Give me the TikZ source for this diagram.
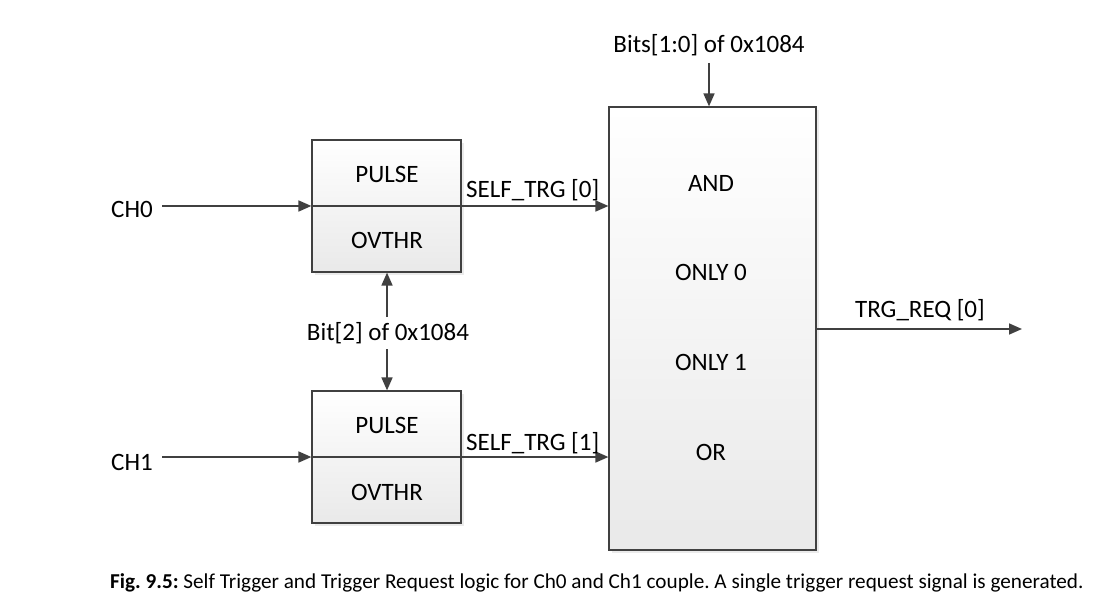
\documentclass[tikz,border=0pt]{standalone}
\usepackage{fontspec}
\setmainfont{Carlito}
\usetikzlibrary{arrows.meta,shadows}
\definecolor{ln}{HTML}{404040}
\definecolor{bot}{HTML}{E9E9E9}
\begin{document}
\frenchspacing
\begin{tikzpicture}[x=1bp,y=-1bp,
  every node/.style={font=\fontsize{25bp}{30bp}\selectfont, text=black, inner sep=0pt},
  blk/.style={draw=ln, line width=1.2bp, top color=white, bottom color=bot,
    drop shadow={shadow xshift=3bp, shadow yshift=-3bp, fill=black!8, opacity=1}},
  arr/.style={draw=ln, line width=1.7bp, -{Triangle[length=13bp,width=11bp]}},
  ln/.style={draw=ln, line width=1.7bp}]
\useasboundingbox (0,0) rectangle (1096,603);
% blocks
\node[blk, minimum width=149bp, minimum height=132bp] (b1) at (386.5,206) {};
\node[blk, minimum width=149bp, minimum height=132bp] (b2) at (386.5,457) {};
\node[blk, minimum width=207bp, minimum height=443bp] (big) at (712.5,328.5) {};
% texts in blocks
\node (p1) at (387,174) {PULSE};
\node (o1) at (387,240) {OVTHR};
\node (p2) at (387,425) {PULSE};
\node (o2) at (387,492) {OVTHR};
\node (and) at (711,183) {AND};
\node (on0) at (711,272) {ONLY 0};
\node (on1) at (711,362) {ONLY 1};
\node (or) at (711,452) {OR};
% inputs
\node (ch0) at (132,209) {CH0};
\node (ch1) at (132,462) {CH1};
\coordinate (ch0e) at (162,206);
\coordinate (ch1e) at (162,457);
\draw[arr] (ch0e) -- (b1.west);
\draw[arr] (ch1e) -- (b2.west);
\draw[arr] (b1.west) -- (b1.west -| big.west);
\draw[arr] (b2.west) -- (b2.west -| big.west);
\node[anchor=west] (s0) at (466,190) {SELF\_TRG [0]};
\node[anchor=west] (s1) at (466,443) {SELF\_TRG [1]};
% bit 2
\node (bit2) at (388,333) {Bit[2] of 0x1084};
\coordinate (u0) at (387,317);
\coordinate (d0) at (387,349);
\draw[arr] (u0) -- (b1.south -| u0);
\draw[arr] (d0) -- (b2.north -| d0);
% bits 1:0
\node (bits) at (709,45) {Bits[1:0] of 0x1084};
\coordinate (bt) at (709,63);
\draw[arr] (bt) -- (big.north -| bt);
% output
\coordinate (oe) at (1022,329);
\draw[arr] (big.east |- oe) -- (oe);
\node (trg) at (920,310) {TRG\_REQ [0]};
% caption
\node[anchor=west, font=\fontsize{21.2bp}{25bp}\selectfont] (cap) at (110,583) {\textbf{Fig. 9.5:} Self Trigger and Trigger Request logic for Ch0 and Ch1 couple. A single trigger request signal is generated.};
\end{tikzpicture}
\end{document}
